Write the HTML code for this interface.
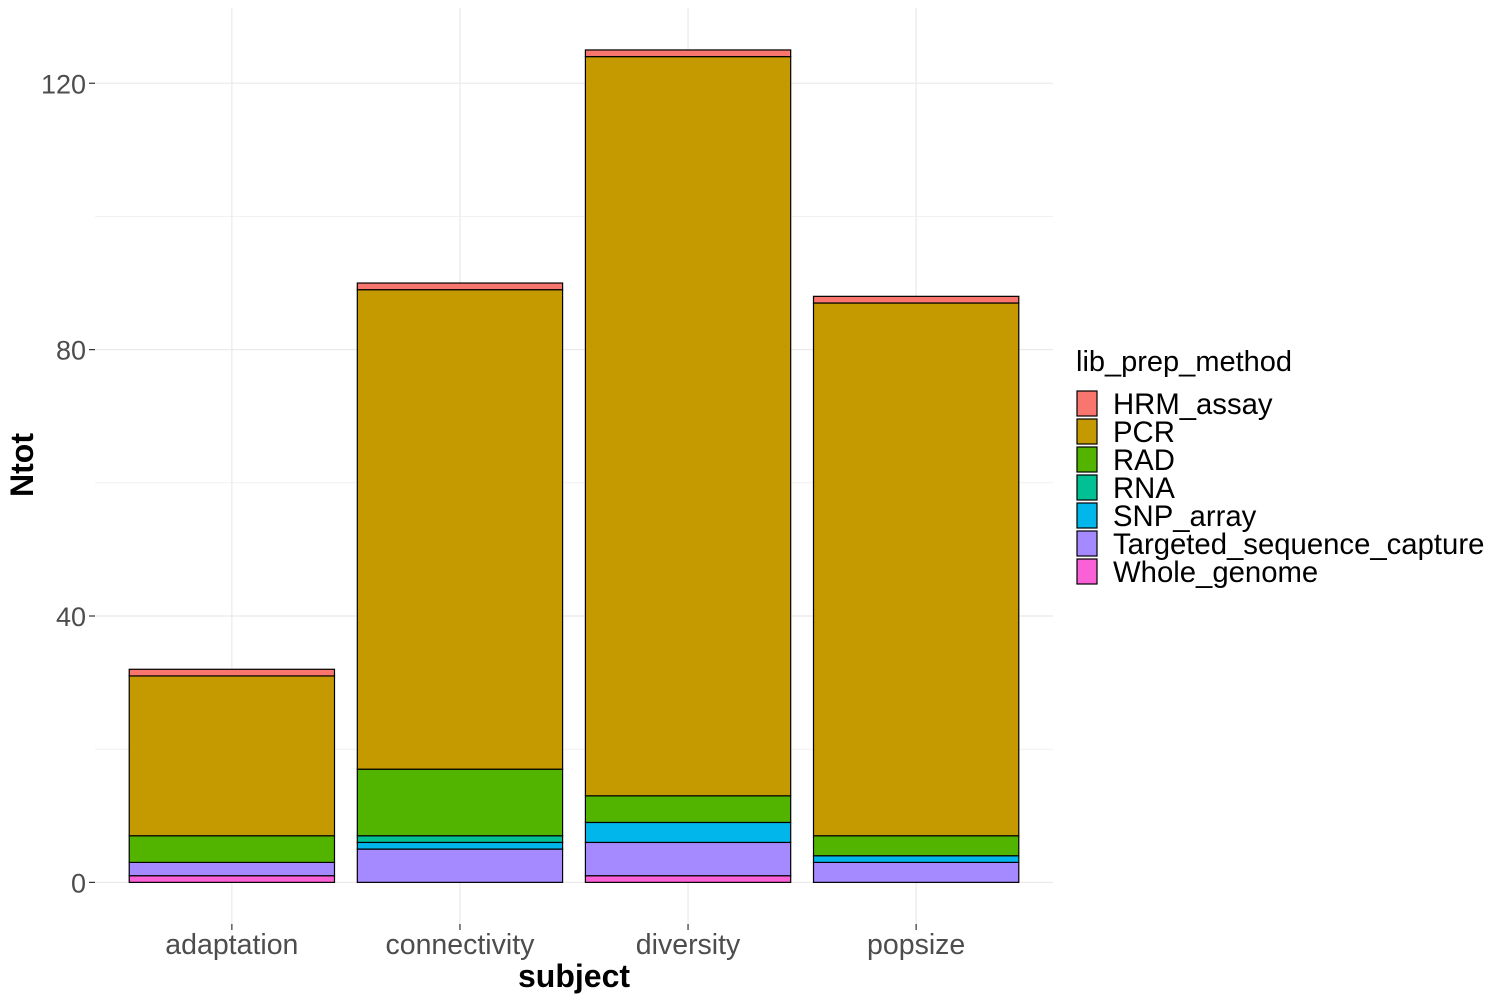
<!DOCTYPE html>
<html><head><meta charset="utf-8"><style>
body{margin:0;background:#fff}
svg text{font-family:"Liberation Sans",Arial,sans-serif}
</style></head><body>
<svg id="chart" width="1500" height="1000" xmlns="http://www.w3.org/2000/svg"></svg>
<script>
const categories=["adaptation","connectivity","diversity","popsize"];
const methods=["HRM_assay","PCR","RAD","RNA","SNP_array","Targeted_sequence_capture","Whole_genome"];
const colors=["#F8766D","#C49A00","#53B400","#00C094","#00B6EB","#A58AFF","#FB61D7"];
const HRM_assay=[1,1,1,1];
const PCR=[24,72,111,80];
const RAD=[4,10,4,3];
const RNA=[0,1,0,0];
const SNP_array=[0,1,3,1];
const Targeted_sequence_capture=[2,5,5,3];
const Whole_genome=[1,0,1,0];
const yTicks=[0,40,80,120];
const series=[HRM_assay,PCR,RAD,RNA,SNP_array,Targeted_sequence_capture,Whole_genome];
const NS="http://www.w3.org/2000/svg";
const svg=document.getElementById('chart');
const L=95,R=1053,T=8,B=924;
const yMin=-6.25,yMax=131.3;
const y=v=>B-(v-yMin)/(yMax-yMin)*(B-T);
const band=(R-L)/(categories.length+0.2);
const xc=i=>L+band*(0.6+i);
const bw=band*0.9;
function mk(tag,attrs,parent){const e=document.createElementNS(NS,tag);for(const k in attrs)e.setAttribute(k,attrs[k]);(parent||svg).appendChild(e);return e;}
for(let v=0;v<=yMax;v+=20){const g=mk('line',{x1:L,x2:R,y1:y(v),y2:y(v),stroke:'#ebebeb','stroke-width':v%40===0?1.3:0.7});

}
categories.forEach((c,i)=>{const g=mk('line',{x1:xc(i),x2:xc(i),y1:T,y2:B,stroke:'#ebebeb','stroke-width':1.3});

});
categories.forEach((c,i)=>{let cum=0;
for(let s=methods.length-1;s>=0;s--){const v=series[s][i];if(!v)continue;
const r=mk('rect',{x:xc(i)-bw/2,y:y(cum+v),width:bw,height:y(cum)-y(cum+v),fill:colors[s],stroke:'#000','stroke-width':1.2});


cum+=v;}});
yTicks.forEach(v=>{const t=mk('line',{x1:L-6,x2:L,y1:y(v),y2:y(v),stroke:'#333','stroke-width':1.2});


const l=mk('text',{x:L-9,y:y(v)+10,'text-anchor':'end','font-size':27,fill:'#4d4d4d'});l.textContent=v;

});
categories.forEach((c,i)=>{const t=mk('line',{x1:xc(i),x2:xc(i),y1:B,y2:B+6,stroke:'#333','stroke-width':1.2});


const l=mk('text',{x:xc(i),y:954,'text-anchor':'middle','font-size':28.5,fill:'#4d4d4d'});l.textContent=c;

});
const xt=mk('text',{x:574,y:987,'text-anchor':'middle','font-size':32,'font-weight':'bold'});xt.textContent='subject';


const yt=mk('text',{x:0,y:0,'text-anchor':'middle','font-size':32,'font-weight':'bold',transform:'translate(33,465) rotate(-90)'});yt.textContent='Ntot';


const lt=mk('text',{x:1076,y:371,'font-size':29});lt.textContent='lib_prep_method';


methods.forEach((m,s)=>{const g=mk('g',{});


mk('rect',{x:1077,y:391+s*28,width:20,height:25,fill:colors[s],stroke:'#000','stroke-width':1.2},g);
const t=mk('text',{x:1113,y:414+s*28,'font-size':29.3},g);t.textContent=m;});
</script>
</body></html>
